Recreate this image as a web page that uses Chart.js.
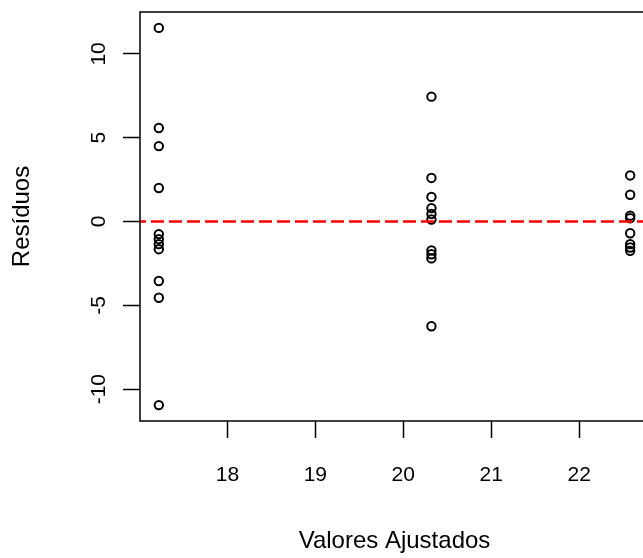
<!DOCTYPE html>
<html>
<head>
<meta charset="utf-8">
<script src="https://cdn.jsdelivr.net/npm/chart.js@4/dist/chart.umd.min.js"></script>
<style>
  html, body { margin: 0; padding: 0; overflow: hidden; background: #fff; }
  canvas { display: block; }
</style>
</head>
<body>
<canvas id="c" width="660" height="558"></canvas>
<script>
// Fitted value of each group and the residuals observed in it
const fittedLevels = [17.22, 20.32, 22.58];
const residualsG1 = [11.55, 5.58, 4.5, 2.0, -0.75, -1.05, -1.35, -1.65, -3.55, -4.55, -10.95];
const residualsG2 = [7.45, 2.6, 1.47, 0.8, 0.45, 0.12, -1.72, -1.95, -2.2, -6.25];
const residualsG3 = [2.75, 1.6, 0.35, 0.2, -0.7, -1.35, -1.55, -1.75];

// Axis ticks and limits
const xTicks = [18, 19, 20, 21, 22];
const yTicks = [-10, -5, 0, 5, 10];
const xLimits = [17.006, 22.794];
const yLimits = [-11.9, 12.5];
const referenceLevel = 0;

const xTitle = 'Valores Ajustados';
const yTitle = 'Resíduos';

const residualPoints = [];
[residualsG1, residualsG2, residualsG3].forEach((group, i) => {
  group.forEach(r => residualPoints.push({ x: fittedLevels[i], y: r }));
});

const FAMILY = '"Liberation Sans", Arial, sans-serif';
const TICK_FONT = { family: FAMILY, size: 21 };
const TITLE_FONT = { family: FAMILY, size: 24 };

// Plot frame around the data region
const frame = {
  id: 'frame',
  afterDraw(chart) {
    const { ctx, chartArea: a } = chart;
    ctx.save();
    ctx.strokeStyle = '#000';
    ctx.lineWidth = 1.5;
    ctx.strokeRect(a.left, a.top, a.right - a.left, a.bottom - a.top);
    ctx.restore();
  }
};

new Chart(document.getElementById('c'), {
  type: 'scatter',
  data: {
    datasets: [
      {
        // horizontal reference at zero
        type: 'line',
        data: [{ x: xLimits[0], y: referenceLevel }, { x: xLimits[1], y: referenceLevel }],
        borderColor: '#ff0000',
        borderWidth: 2.5,
        borderDash: [13, 5],
        borderDashOffset: 7,
        pointRadius: 0,
        fill: false,
        order: 0
      },
      {
        data: residualPoints,
        pointStyle: 'circle',
        pointRadius: 4.2,
        pointBorderWidth: 2,
        borderColor: '#000',
        backgroundColor: 'rgba(0,0,0,0)',
        pointBackgroundColor: 'rgba(0,0,0,0)',
        pointBorderColor: '#000',
        order: 1
      }
    ]
  },
  options: {
    responsive: false,
    animation: false,
    devicePixelRatio: 1,
    layout: { padding: { top: 12, right: 11, bottom: 0, left: 0 } },
    plugins: { legend: { display: false }, tooltip: { enabled: false } },
    scales: {
      x: {
        type: 'linear',
        min: xLimits[0],
        max: xLimits[1],
        afterBuildTicks(s) { s.ticks = xTicks.map(v => ({ value: v })); },
        afterFit(s) { s.height = 137; s.paddingLeft = 0; s.paddingRight = 0; },
        border: { display: false },
        grid: {
          drawOnChartArea: false, drawTicks: true,
          tickLength: 17, tickWidth: 1.5, tickColor: '#000'
        },
        ticks: { color: '#000', font: TICK_FONT, padding: 25, maxRotation: 0, autoSkip: false },
        title: { display: true, text: xTitle, color: '#000', font: TITLE_FONT, padding: { top: 0, bottom: 2 } }
      },
      y: {
        type: 'linear',
        min: yLimits[0],
        max: yLimits[1],
        afterBuildTicks(s) { s.ticks = yTicks.map(v => ({ value: v })); },
        afterFit(s) { s.width = 140; s.paddingTop = 0; s.paddingBottom = 0; },
        border: { display: false },
        grid: {
          drawOnChartArea: false, drawTicks: true,
          tickLength: 17, tickWidth: 1.5, tickColor: '#000'
        },
        ticks: { color: '#000', font: TICK_FONT, padding: 9, minRotation: 90, maxRotation: 90, crossAlign: 'center', autoSkip: false },
        title: { display: true, text: yTitle, color: '#000', font: TITLE_FONT, padding: { top: 8, bottom: 0 } }
      }
    }
  },
  plugins: [frame]
});
</script>
</body>
</html>
